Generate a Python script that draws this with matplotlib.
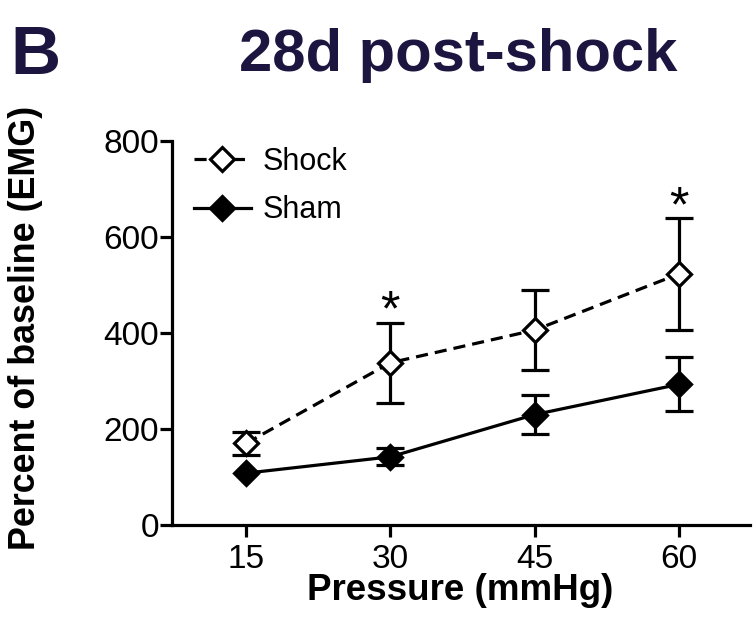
import matplotlib
matplotlib.use("Agg")
import matplotlib.pyplot as plt
from matplotlib.lines import Line2D

plt.rcParams['font.family'] = ['Liberation Sans', 'DejaVu Sans']

# Pressure steps and EMG response (% of baseline), mean ± SEM
pressure = [15, 30, 45, 60]
shock_mean = [170, 338, 406, 523]
shock_sem = [24, 83, 83, 116]
sham_mean = [108, 142, 230, 293]
sham_sem = [0, 18, 40, 56]
significant = [False, True, False, True]

x_ticks = [15, 30, 45, 60]
y_ticks = [0, 200, 400, 600, 800]

navy = '#1b1540'
lw = 2.3
ms = 12.5
dash = (0, (3.8, 2.2))


def draw_series(x, mean, sem, face, style, z):
    # error bars only where the SEM is non-zero, then line and markers on top
    keep = [i for i, s in enumerate(sem) if s > 0]
    ax.errorbar([x[i] for i in keep], [mean[i] for i in keep],
                yerr=[sem[i] for i in keep], fmt='none', ecolor='black',
                elinewidth=lw, capsize=10, capthick=lw, zorder=z)
    ax.plot(x, mean, color='black', lw=lw, linestyle=style, marker='D',
            markersize=ms, markerfacecolor=face, markeredgecolor='black',
            markeredgewidth=lw, zorder=z + 0.5)


fig = plt.figure(figsize=(7.53, 6.29), dpi=100)
ax = fig.add_axes([172 / 753, 1 - 525 / 629, (750 - 172) / 753, (525 - 141) / 629])

draw_series(pressure, sham_mean, sham_sem, 'black', '-', 3)
draw_series(pressure, shock_mean, shock_sem, 'white', dash, 4)

for p, m, s, sig in zip(pressure, shock_mean, shock_sem, significant):
    if sig:
        ax.annotate('*', xy=(p, m + s), xytext=(0, -2), textcoords='offset points',
                    ha='center', va='baseline', fontsize=36)

ax.set_xlim(7.3, 67.4)
ax.set_ylim(0, 800)
ax.set_xticks(x_ticks)
ax.set_yticks(y_ticks)
ax.tick_params(axis='both', which='major', labelsize=24, width=lw, length=8.5,
               direction='out')
ax.tick_params(axis='y', pad=1)
ax.tick_params(axis='x', pad=5)
for side in ('top', 'right'):
    ax.spines[side].set_visible(False)
for side in ('left', 'bottom'):
    ax.spines[side].set_linewidth(lw)

handles = [
    Line2D([], [], color='black', lw=lw, linestyle=dash, marker='D',
           markersize=ms, markerfacecolor='white', markeredgecolor='black',
           markeredgewidth=lw),
    Line2D([], [], color='black', lw=lw, marker='D', markersize=ms,
           markerfacecolor='black', markeredgecolor='black', markeredgewidth=lw),
]
ax.legend(handles, ['Shock', 'Sham'], loc='upper left', bbox_to_anchor=(-0.01, 1.056),
          frameon=False, fontsize=22, handlelength=1.87, handletextpad=0.4,
          labelspacing=0.6)

fig.text(10 / 753, 1 - 74 / 629, 'B', fontsize=50, fontweight='bold', color=navy,
         ha='left', va='baseline')
fig.text(458 / 753, 1 - 71 / 629, '28d post-shock', fontsize=43, fontweight='bold',
         color=navy, ha='center', va='baseline')
fig.text(26 / 753, 1 - 328 / 629, 'Percent of baseline (EMG)', fontsize=25.8,
         fontweight='bold', rotation=90, ha='center', va='center')
fig.text(460 / 753, 1 - 591 / 629, 'Pressure (mmHg)', fontsize=26.5,
         fontweight='bold', ha='center', va='center')

fig.savefig('out.png', dpi=100)
